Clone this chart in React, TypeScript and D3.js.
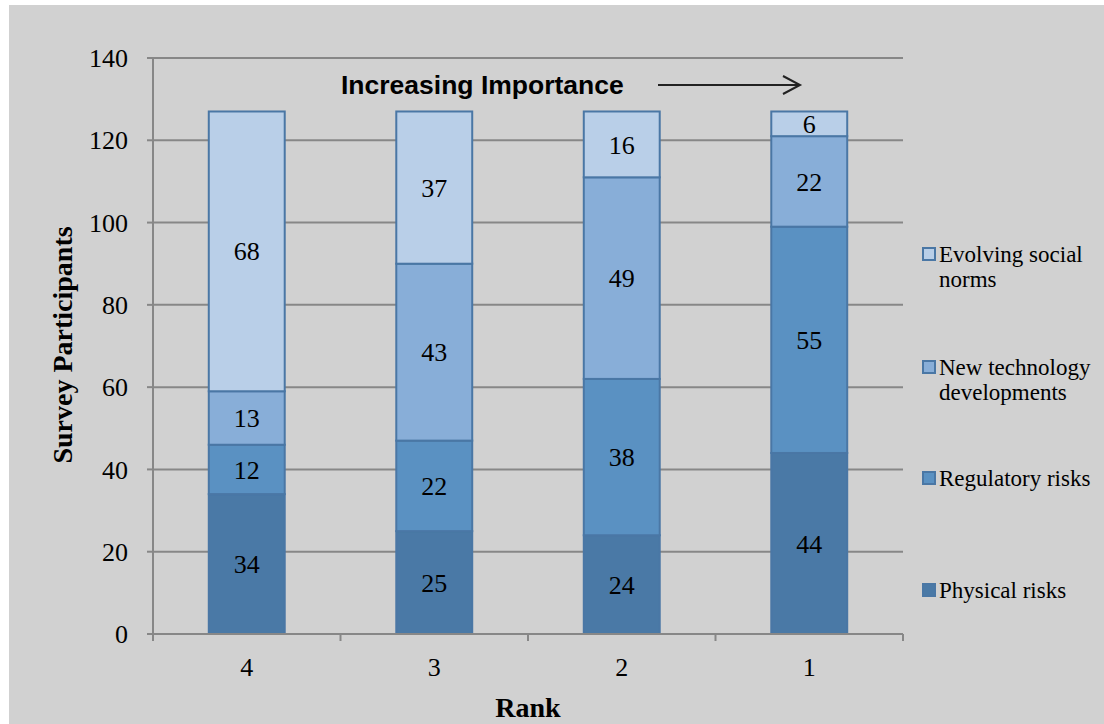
import React from "react";
import * as d3 from "d3";

const ranks = ["4", "3", "2", "1"];
const seriesNames = ["Physical risks", "Regulatory risks", "New technology developments", "Evolving social norms"];
const physical = [34, 25, 24, 44];
const regulatory = [12, 22, 38, 55];
const newTech = [13, 43, 49, 22];
const socialNorms = [68, 37, 16, 6];
const yTicks = [0, 20, 40, 60, 80, 100, 120, 140];

const fills = ["#4a79a6", "#5a91c2", "#88aed8", "#b9cfe8"];
const legendLines = [
  ["Evolving social", "norms"],
  ["New technology", "developments"],
  ["Regulatory risks"],
  ["Physical risks"],
];
const legendY = [254, 367, 478, 590];

const W = 1104;
const H = 724;
const serif = "'Liberation Serif', 'Times New Roman', serif";
const sans = "'Liberation Sans', Arial, sans-serif";

export default function App() {
  const left = 153, right = 903, top = 58, bottom = 634;
  const x = d3.scaleBand().domain(ranks).range([left, right]).paddingInner(0.595).paddingOuter(0.2975);
  const y = d3.scaleLinear().domain([0, 140]).range([bottom, top]);

  const rows = ranks.map((r, i) => ({
    rank: r,
    "Physical risks": physical[i],
    "Regulatory risks": regulatory[i],
    "New technology developments": newTech[i],
    "Evolving social norms": socialNorms[i],
  }));
  const stacked = d3.stack<any>().keys(seriesNames)(rows);
  const step = (right - left) / ranks.length;
  const gridColor = "#878787";

  return (
    <svg width={W} height={H} style={{ position: "absolute", left: 0, top: 0 }}>
      <rect x={0} y={0} width={W} height={H} fill="#ffffff" />
      <rect x={9} y={5} width={W - 9} height={H - 5} fill="#d1d1d1" />

      {/* gridlines */}
      {yTicks.map((t) => (
        <line key={t} x1={left} x2={right} y1={y(t)} y2={y(t)} stroke={gridColor} strokeWidth={2} />
      ))}

      {/* stacked bars */}
      {stacked.map((layer, si) =>
        layer.map((d, i) => {
          const bx = x(ranks[i])!;
          const y0 = y(d[0]);
          const y1 = y(d[1]);
          return (
            <g key={`${si}-${i}`}>
              <rect x={bx} y={y1} width={x.bandwidth()} height={y0 - y1} fill={fills[si]} stroke="#4a77a5" strokeWidth={2} />
              <text x={bx + x.bandwidth() / 2} y={(y0 + y1) / 2} dy="0.35em" textAnchor="middle" fontFamily={serif} fontSize={26} fill="#000">
                {d[1] - d[0]}
              </text>
            </g>
          );
        })
      )}

      {/* axes */}
      <line x1={left} x2={left} y1={top} y2={bottom} stroke={gridColor} strokeWidth={2} />
      <line x1={left} x2={right} y1={bottom} y2={bottom} stroke={gridColor} strokeWidth={2} />
      {yTicks.map((t) => (
        <g key={`yt${t}`}>
          <line x1={left - 6} x2={left} y1={y(t)} y2={y(t)} stroke={gridColor} strokeWidth={2} />
          <text x={128} y={y(t)} dy="0.35em" textAnchor="end" fontFamily={serif} fontSize={26} fill="#000">
            {t}
          </text>
        </g>
      ))}
      {d3.range(ranks.length + 1).map((k) => (
        <line key={`xt${k}`} x1={left + k * step} x2={left + k * step} y1={bottom} y2={bottom + 7} stroke={gridColor} strokeWidth={2} />
      ))}
      {ranks.map((r) => (
        <text key={`xl${r}`} x={x(r)! + x.bandwidth() / 2} y={676} textAnchor="middle" fontFamily={serif} fontSize={26} fill="#000">
          {r}
        </text>
      ))}

      {/* axis titles */}
      <text x={528} y={717} textAnchor="middle" fontFamily={serif} fontWeight="bold" fontSize={28} fill="#000">
        Rank
      </text>
      <text transform="translate(72,345) rotate(-90)" textAnchor="middle" fontFamily={serif} fontWeight="bold" fontSize={28} fill="#000">
        Survey Participants
      </text>

      {/* annotation */}
      <text x={341} y={94} fontFamily={sans} fontWeight="bold" fontSize={26.5} fill="#000">
        Increasing Importance
      </text>
      <line x1={658} x2={800} y1={85} y2={85} stroke="#222" strokeWidth={2} />
      <polyline points="783,76 800,85 783,94" fill="none" stroke="#222" strokeWidth={2} />

      {/* legend */}
      {legendLines.map((lines, li) => {
        const si = seriesNames.length - 1 - li;
        const cy = legendY[li];
        return (
          <g key={`lg${li}`}>
            <rect x={923} y={cy - 6} width={12} height={12} fill={fills[si]} stroke="#4a77a5" strokeWidth={2} />
            {lines.map((ln, k) => (
              <text key={k} x={939} y={cy + 8 + k * 25} fontFamily={serif} fontSize={23} fill="#000">
                {ln}
              </text>
            ))}
          </g>
        );
      })}
    </svg>
  );
}
